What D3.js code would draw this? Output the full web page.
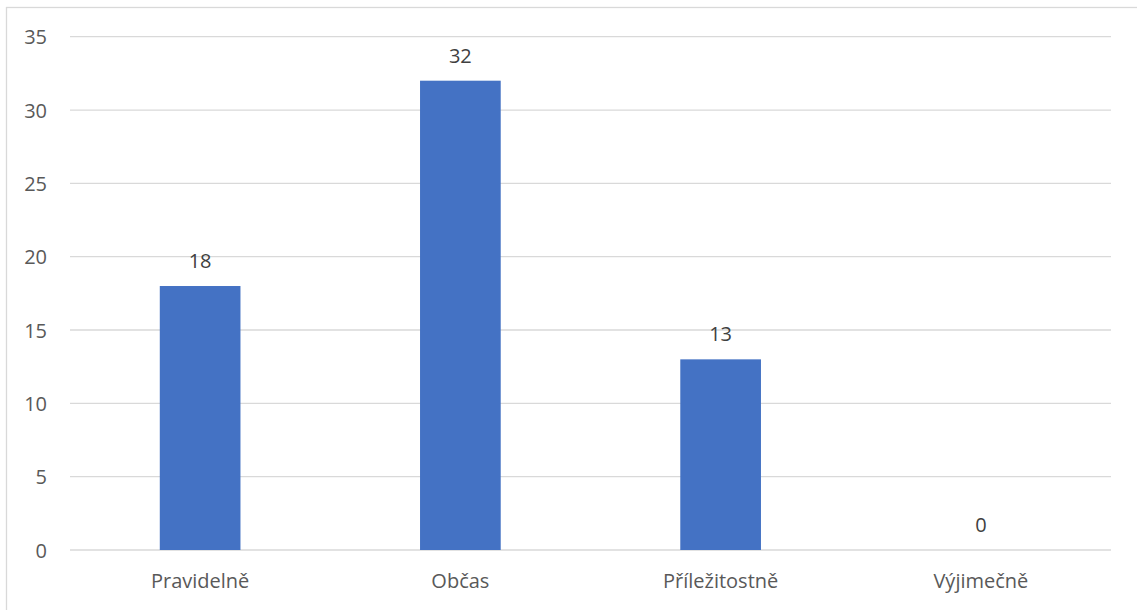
<!DOCTYPE html>
<html><head><meta charset="utf-8">
<script src="https://cdn.jsdelivr.net/npm/d3@7"></script>
<style>
html,body{margin:0;padding:0;background:#fff;}
svg{display:block;}
text{font-family:"Open Sans",sans-serif;}
</style></head>
<body>
<svg id="chart" width="1137" height="610"></svg>
<script>
const categories = ["Pravidelně", "Občas", "Příležitostně", "Výjimečně"];
const values = [18, 32, 13, 0];
const yTicks = [0, 5, 10, 15, 20, 25, 30, 35];

(function () {
const svg = d3.select("#chart");
const W = 1137, H = 610;
const mLeft = 70, mRight = 1111, mTop = 36.7, mBottom = 550;
const fs = 20;

svg.append("rect").attr("x", 6.5).attr("y", 7.5).attr("width", W + 10).attr("height", H + 10)
  .attr("fill", "#fff").attr("stroke", "#d9d9d9").attr("stroke-width", 1.3);

const x = d3.scaleBand().domain(categories).range([mLeft, mRight]).paddingInner(0.69).paddingOuter(0.345);
const y = d3.scaleLinear().domain([0, 35]).range([mBottom, mTop]);

const grid = svg.append("g");
grid.selectAll("line").data(yTicks).join("line")
  .attr("x1", mLeft).attr("x2", mRight)
  .attr("y1", d => y(d)).attr("y2", d => y(d))
  .attr("stroke", "#d9d9d9").attr("stroke-width", 1.3);

const yAxis = d3.axisLeft(y).tickValues(yTicks).tickSize(0).tickPadding(0);
const ya = svg.append("g").attr("transform", `translate(47,0)`).call(yAxis);
ya.select(".domain").remove();
ya.selectAll("text").attr("font-family", "Open Sans, sans-serif").attr("font-size", fs)
  .attr("fill", "#595959").attr("dy", "0.35em");

svg.append("g").selectAll("rect").data(values).join("rect")
  .attr("x", (d, i) => x(categories[i]))
  .attr("width", x.bandwidth())
  .attr("y", d => y(d))
  .attr("height", d => y(0) - y(d))
  .attr("fill", "#4472c4");

svg.append("g").selectAll("text").data(values).join("text")
  .attr("x", (d, i) => x(categories[i]) + x.bandwidth() / 2)
  .attr("y", d => y(d) - 18)
  .attr("text-anchor", "middle")
  .attr("font-size", fs).attr("fill", "#404040")
  .text(d => d);

const xAxis = d3.axisBottom(x).tickSize(0).tickPadding(0);
const xa = svg.append("g").attr("transform", `translate(0,${mBottom})`).call(xAxis);
xa.select(".domain").remove();
xa.selectAll("text").attr("font-family", "Open Sans, sans-serif").attr("font-size", fs)
  .attr("fill", "#595959").attr("dy", null).attr("y", 38);
})();
</script>
</body></html>
